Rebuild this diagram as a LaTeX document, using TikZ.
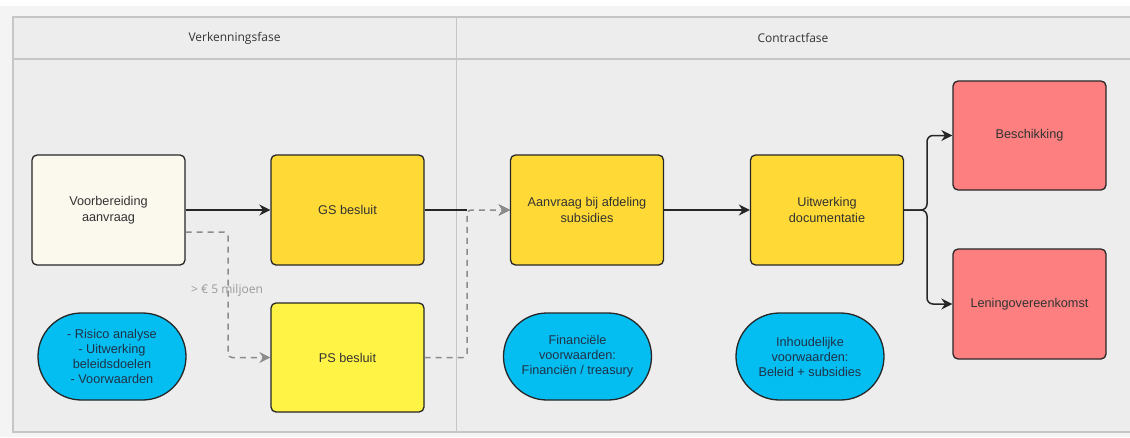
\documentclass[tikz,border=0pt]{standalone}
\usepackage{fontspec}
\setmainfont{Liberation Sans}
\newfontfamily\hdrfont{Open Sans}
\usetikzlibrary{arrows.meta,shapes.misc,calc}
\definecolor{outerbg}{HTML}{F4F4F4}
\definecolor{panelbg}{HTML}{EDEDED}
\definecolor{framecol}{HTML}{C6C6C6}
\definecolor{creamcol}{HTML}{FBF8EE}
\definecolor{goldcol}{HTML}{FFD935}
\definecolor{yelcol}{HTML}{FFF345}
\definecolor{bluecol}{HTML}{04BDF1}
\definecolor{redcol}{HTML}{FD7F7F}
\definecolor{dashcol}{HTML}{8C8C8C}
\definecolor{labcol}{HTML}{9A9A9A}
\definecolor{inkcol}{HTML}{262626}
\definecolor{txtcol}{HTML}{333333}
\definecolor{pilltxt}{HTML}{1F3348}
\tikzset{
  boxnode/.style={draw=inkcol, line width=1.3pt, rounded corners=5pt,
    minimum width=153pt, minimum height=110pt, align=center, text=txtcol,
    font=\fontsize{12.7}{16}\selectfont, inner sep=2pt},
  pillnode/.style={rounded rectangle, draw=inkcol, line width=1.3pt, fill=bluecol,
    minimum width=152pt, minimum height=87pt, align=center, text=pilltxt,
    font=\fontsize{12.7}{15}\selectfont, inner sep=2pt},
  conn/.style={draw=inkcol, line width=1.5pt, -{Stealth[length=11pt,width=11pt]}},
  dashconn/.style={draw=dashcol, line width=1.5pt, dash pattern=on 6pt off 5pt,
    rounded corners=4pt, -{Stealth[length=11pt,width=11pt]}},
  hdr/.style={font=\hdrfont\fontsize{12}{14}\selectfont, text=txtcol},
}
\begin{document}
\begin{tikzpicture}[x=1pt,y=-1pt]
\useasboundingbox (0,0) rectangle (1130,437);
\fill[white] (0,0) rectangle (1130,437);
\fill[outerbg] (0,6) rectangle (1130,437);
\fill[panelbg] (13,17) rectangle (1131,432);
\draw[framecol, line width=1.5pt] (1132,17) -- (13,17) -- (13,432) -- (1132,432);
\draw[framecol, line width=1.5pt] (13,59) -- (1132,59);
\draw[framecol, line width=1pt] (456,17) -- (456,432);
\node[hdr] (h1) at (234.5,38) {Verkenningsfase};
\node[hdr] (h2) at (793,38) {Contractfase};

\node[boxnode, fill=creamcol] (voor) at (108.5,210) {Voorbereiding\\aanvraag};
\node[boxnode, fill=goldcol] (gs) at (347.5,210) {GS besluit};
\node[boxnode, fill=yelcol, minimum height=109pt] (ps) at (347.5,357.5) {PS besluit};
\node[pillnode] (risk) at (112,356.5) {- Risico analyse\\- Uitwerking\\beleidsdoelen\\- Voorwaarden};
\node[boxnode, fill=goldcol] (aanv) at (587,210) {Aanvraag bij afdeling\\subsidies};
\node[boxnode, fill=goldcol] (uitw) at (827,210) {Uitwerking\\documentatie};
\node[pillnode] (fin) at (577.5,356.5) {Financi\"ele\\voorwaarden:\\Financi\"en / treasury};
\node[pillnode] (inh) at (810,356.5) {Inhoudelijke\\voorwaarden:\\Beleid + subsidies};
\node[boxnode, fill=redcol, minimum height=109pt] (besch) at (1029.5,135.5) {Beschikking};
\node[boxnode, fill=redcol] (len) at (1029.5,304) {Leningovereenkomst};

\coordinate (dv) at (228,0);
\coordinate (jn) at (467,210);
\coordinate (split) at (927,210);

\draw[conn] (voor) -- (gs);
\draw[conn] (gs) -- (aanv);
\draw[conn] (aanv) -- (uitw);
\draw[conn, rounded corners=6pt] (uitw.east) -- (split) |- (besch.west);
\draw[conn, rounded corners=6pt] (uitw.east) -- (split) |- (len.west);

\draw[dashconn] ([yshift=-22pt]voor.east) -| (dv |- ps.west) -- (ps.west);
\node[font=\hdrfont\fontsize{12}{14}\selectfont, text=labcol] (lab) at (227,290) {> € 5 miljoen};
\draw[panelbg, line width=3pt] (jn) -- ([xshift=-6pt]aanv.west);
\draw[dashconn] (ps.east) -| (jn) -- (aanv.west);
\end{tikzpicture}
\end{document}
